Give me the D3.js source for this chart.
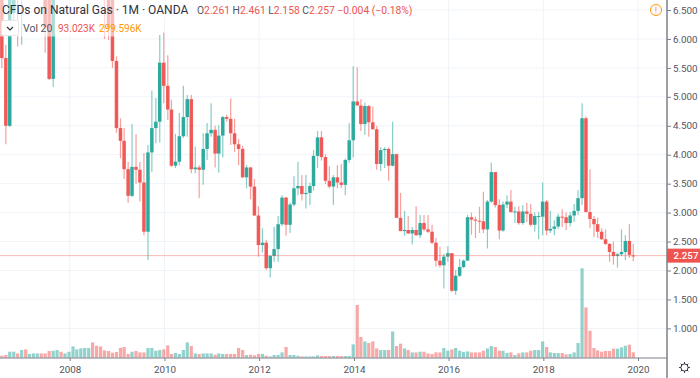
<!DOCTYPE html>
<html>
<head>
<meta charset="utf-8">
<script src="https://cdn.jsdelivr.net/npm/d3@7"></script>
<style>
  html, body { margin: 0; padding: 0; background: #fff; }
  text { font-family: Roboto, "Open Sans", sans-serif; }
</style>
</head>
<body>
<div id="chart"></div>
<script>
// monthly candles, Aug 2006 to Dec 2019
const firstYear = 2006, firstMonth = 7;

const opens = [
  7.6,5.67,4.5,6.45,7.5,7,7.8,7.3,7.7,7.9,
  8.2,7.4,7,5.31,7.3,7.6,7.1,7.4,8,9.2,
  9.4,10.8,11.3,13.1,9.1,8,7.4,7,6.9,5.62,
  4.46,4.24,3.75,3.29,3.79,3.74,3.52,2.67,4.04,4.46,
  4.57,5.59,5.19,4.78,3.81,3.88,4.32,4.65,4.96,3.75,
  3.78,3.74,4.1,4.37,4.43,4.02,4.33,4.65,4.62,4.37,
  4.18,4.1,3.61,3.78,3.45,2.95,2.44,2.48,2.04,2.25,
  2.37,2.8,3.26,2.79,3.14,3.42,3.46,3.32,3.34,3.46,
  3.98,4.3,3.96,3.55,3.45,3.61,3.52,3.48,3.91,4.25,
  4.92,4.85,4.53,4.84,4.56,4.44,3.84,4.08,4.1,3.81,
  4.01,2.91,2.68,2.7,2.64,2.7,2.61,2.82,2.71,2.67,
  2.48,2.17,2.09,2.24,2.3,1.65,1.91,2.06,2.17,2.92,
  2.88,2.86,2.85,2.71,3.19,3.7,3.13,2.69,3.14,3.19,
  3.01,3.02,2.82,3.02,2.98,2.79,2.93,2.93,3.19,2.69,
  2.72,2.76,2.93,2.92,2.82,2.95,3.03,3.25,4.63,3.01,
  2.89,2.8,2.67,2.54,2.46,2.32,2.25,2.28,2.32,2.51,2.261
];
const closes = [
  5.67,4.5,7.2,7.5,7,7.8,7.3,7.7,8,8.2,
  7.4,6.2,5.31,7.3,7.6,7.1,7.4,8,9.2,9.4,
  10.8,11.3,13.1,9.1,8,7.4,6.9,6.2,5.62,4.46,
  4.24,3.75,3.29,3.79,3.74,3.52,2.67,4.04,4.46,4.57,
  5.59,5.19,4.78,3.81,3.88,4.32,4.65,4.96,3.75,3.78,
  3.74,4.1,4.37,4.43,4.02,4.33,4.65,4.62,4.37,4.18,
  4.1,3.61,3.78,3.45,2.95,2.44,2.48,2.04,2.25,2.37,
  2.8,3.26,2.79,3.14,3.42,3.46,3.32,3.34,3.46,3.98,
  4.3,3.96,3.55,3.45,3.61,3.52,3.48,3.91,4.25,4.92,
  4.85,4.53,4.84,4.56,4.44,3.84,4.08,4.1,3.81,4.01,
  2.91,2.68,2.7,2.64,2.7,2.61,2.82,2.71,2.67,2.48,
  2.17,2.09,2.24,2.3,1.65,1.91,2.06,2.17,2.92,2.88,
  2.86,2.85,2.71,3.19,3.7,3.13,2.69,3.14,3.19,3.01,
  3.02,2.82,3.02,2.98,2.79,2.94,2.94,3.19,2.69,2.72,
  2.76,2.93,2.92,2.82,2.95,3.03,3.25,4.63,3.01,2.89,
  2.8,2.67,2.54,2.46,2.32,2.25,2.28,2.32,2.51,2.27,2.257
];
const highs = [
  8,5.9,8.4,8.6,8,8.2,8.1,8,8.4,8.6,
  8.5,7.8,7.2,7.6,8,7.8,7.7,8.3,9.5,9.8,
  11,11.9,13.6,13.7,9.6,8.6,7.9,7.5,7.4,5.7,
  4.63,4.46,3.88,4.53,4.36,3.88,4.03,4.17,5.11,4.98,
  6.07,6.11,5.72,4.95,4.36,4.72,5.19,5.03,5.03,4.14,
  3.82,4.37,4.55,4.89,4.5,4.51,4.67,4.69,4.97,4.62,
  4.27,4.15,3.82,3.79,3.58,3.11,2.73,2.53,2.27,2.75,
  2.94,3.3,3.27,3.17,3.63,3.88,3.65,3.65,3.52,4.08,
  4.41,4.41,4.01,3.8,3.65,3.82,3.84,3.93,4.55,5.53,
  5.51,4.96,4.9,4.86,4.83,4.5,4.13,4.13,4.13,4.57,
  4.02,3.34,3.03,2.94,2.75,3.11,2.96,2.96,2.96,2.79,
  2.56,2.41,2.29,2.42,2.3,2.01,2.2,2.19,2.96,3,
  2.93,3.1,3.36,3.22,3.86,3.7,3.23,3.19,3.3,3.39,
  3.1,3.11,3.13,3.17,3.15,3,3.01,3.52,3.22,3.03,
  2.87,2.98,3.06,3,3.01,3.15,3.39,4.89,4.66,3.75,
  2.94,2.91,2.73,2.71,2.47,2.5,2.3,2.71,2.61,2.8,2.461
];
const lows = [
  5.5,4.18,4.48,6.3,5.87,5.9,6.9,7,7.1,7.3,
  6.9,5.76,5.29,5.17,7,6.9,6.9,7.2,7.8,8.9,
  9.2,10.5,11.1,8.9,7.6,7,6,5.98,5.5,4.38,
  3.94,3.58,3.17,3.27,3.5,3.19,2.61,2.18,3.7,4.2,
  4.21,4.89,4.6,3.79,3.77,3.82,4.29,4.31,3.68,3.68,
  3.25,3.48,3.91,4.31,3.78,3.69,3.95,4.57,4.17,4.05,
  3.82,3.6,3.42,3.23,2.94,2.24,2.31,2.01,1.88,2.15,
  2.15,2.77,2.6,2.65,3.11,3.3,3.21,3.07,3.13,3.38,
  3.77,3.9,3.49,3.42,3.13,3.42,3.42,3.3,3.86,3.95,
  4.84,4.41,4.34,4.31,4.43,3.74,3.72,3.77,3.55,3.8,
  2.91,2.68,2.6,2.63,2.45,2.6,2.56,2.68,2.65,2.46,
  2.07,2.05,1.69,2.15,1.63,1.58,1.89,2.04,2.17,2.62,
  2.56,2.65,2.65,2.38,3.17,3.09,2.54,2.67,3.08,3,
  2.82,2.79,2.79,2.84,2.76,2.67,2.54,2.61,2.61,2.65,
  2.61,2.72,2.75,2.7,2.76,2.84,2.96,3.13,3,2.73,
  2.58,2.56,2.53,2.44,2.15,2.1,2.05,2.25,2.18,2.22,2.158
];
// volume in thousands
const volumes = [
  34,46,103,103,74,132,143,64,74,74,
  74,74,115,120,132,103,74,103,194,143,
  160,167,167,263,206,194,126,115,86,98,
  167,184,64,103,115,91,91,167,167,120,
  132,143,212,64,81,64,132,263,201,74,
  64,74,74,74,52,74,64,64,64,64,
  167,132,46,52,40,64,64,34,22,46,
  46,91,184,46,46,34,22,22,22,22,
  40,29,29,29,29,29,29,29,29,229,
  906,356,280,253,280,160,132,132,132,452,
  201,241,160,132,91,91,103,103,74,64,
  91,91,167,120,143,167,120,100,108,91,
  91,91,120,160,201,184,120,120,81,91,
  46,74,91,91,120,132,132,280,184,91,
  81,81,81,57,64,91,253,1538,865,464,
  167,126,103,115,115,155,155,177,206,224,93
];

const priceTicks = [6.5, 6, 5.5, 5, 4.5, 4, 3.5, 3, 2.5, 2, 1.5, 1];
const yearTicks = [2008, 2010, 2012, 2014, 2016, 2018, 2020];
const lastPrice = 2.257;

const upColor = '#26a69a', downColor = '#ef5350';
const gridColor = '#eff4f9', axisColor = '#7c7f8a', labelColor = '#50535e';
const width = 700, height = 378;
const plotRight = 667, plotBottom = 358;
const barShift = -0.7;

const candles = opens.map((o, i) => ({
  date: new Date(Date.UTC(firstYear, firstMonth + i, 1)),
  open: o, high: highs[i], low: lows[i], close: closes[i], volume: volumes[i]
}));

const svg = d3.select('#chart').append('svg')
  .attr('width', width)
  .attr('height', height)
  .style('display', 'block');

const xScale = d3.scaleUtc()
  .domain([new Date(Date.UTC(2008, 0, 1)), new Date(Date.UTC(2020, 0, 1))])
  .range([69.7, 638]);
const yScale = d3.scaleLinear().domain([1, 6.5]).range([328.4, 10]);
const volScale = d3.scaleLinear().domain([0, 1538]).range([plotBottom - 0.3, 268.3]);

const candleX = d => xScale(d.date) + barShift;
const isUp = d => d.close >= d.open;

svg.append('defs').append('clipPath')
  .attr('id', 'plot-clip')
  .append('rect')
  .attr('width', plotRight)
  .attr('height', plotBottom);

// grid
const grid = svg.append('g').attr('class', 'grid');
grid.selectAll('.h').data(priceTicks).enter().append('line')
  .attr('x1', 0).attr('x2', plotRight)
  .attr('y1', d => yScale(d)).attr('y2', d => yScale(d))
  .attr('stroke', gridColor).attr('stroke-width', 1);
grid.selectAll('.v').data(yearTicks).enter().append('line')
  .attr('x1', d => xScale(new Date(Date.UTC(d, 0, 1))))
  .attr('x2', d => xScale(new Date(Date.UTC(d, 0, 1))))
  .attr('y1', 0).attr('y2', plotBottom)
  .attr('stroke', gridColor).attr('stroke-width', 1);

const plot = svg.append('g').attr('clip-path', 'url(#plot-clip)');

// volume
plot.append('g').selectAll('rect').data(candles).enter().append('rect')
  .attr('x', d => candleX(d) - 1.6)
  .attr('width', 3.2)
  .attr('y', d => volScale(d.volume))
  .attr('height', d => volScale(0) - volScale(d.volume))
  .attr('fill', d => isUp(d) ? upColor : downColor)
  .attr('opacity', 0.5);

// wicks
plot.append('g').selectAll('line').data(candles).enter().append('line')
  .attr('x1', candleX).attr('x2', candleX)
  .attr('y1', d => yScale(d.high)).attr('y2', d => yScale(d.low))
  .attr('stroke', d => isUp(d) ? upColor : downColor)
  .attr('stroke-width', 1.2)
  .attr('opacity', 0.55);

// bodies
plot.append('g').selectAll('rect').data(candles).enter().append('rect')
  .attr('x', d => candleX(d) - 1.75)
  .attr('width', 3.5)
  .attr('y', d => yScale(Math.max(d.open, d.close)))
  .attr('height', d => Math.max(1, Math.abs(yScale(d.open) - yScale(d.close))))
  .attr('fill', d => isUp(d) ? upColor : downColor)
  .attr('opacity', 0.95);

// last price line
plot.append('line')
  .attr('x1', 0).attr('x2', plotRight)
  .attr('y1', yScale(lastPrice)).attr('y2', yScale(lastPrice))
  .attr('stroke', downColor).attr('stroke-width', 1).attr('opacity', 0.4);

// legend sits on a see-through white strip
svg.append('rect').attr('x', 0).attr('y', 0).attr('width', 228).attr('height', 18)
  .attr('fill', '#fff').attr('opacity', 0.6);
svg.append('rect').attr('x', 0).attr('y', 18).attr('width', 146).attr('height', 18.5)
  .attr('fill', '#fff').attr('opacity', 0.6);

const title = svg.append('text').attr('x', 2).attr('y', 13.5)
  .attr('font-size', 12).attr('fill', '#2f3241');
title.text('CFDs on Natural Gas · 1M · OANDA');

const ohlc = svg.append('text').attr('x', 197).attr('y', 13.5).attr('font-size', 10.3);
[['O', labelColor], ['2.261', downColor], [' H', labelColor], ['2.461', downColor],
 [' L', labelColor], ['2.158', downColor], [' C', labelColor], ['2.257', downColor],
 [' \u22120.004 (\u22120.18%)', downColor]].forEach(p => {
  ohlc.append('tspan').attr('fill', p[1]).attr('xml:space', 'preserve').text(p[0]);
});

// collapse button
svg.append('rect').attr('x', 1.5).attr('y', 20.5).attr('width', 17).attr('height', 15).attr('rx', 2)
  .attr('fill', '#fff').attr('stroke', '#e4e6ec');
svg.append('path').attr('d', d3.line()([[7, 27], [10, 30], [13, 27]]))
  .attr('fill', 'none').attr('stroke', '#2f3241').attr('stroke-width', 1.2);

svg.append('text').attr('x', 23).attr('y', 31.5).attr('font-size', 10.5).attr('fill', labelColor).text('Vol 20');
svg.append('text').attr('x', 58).attr('y', 31.5).attr('font-size', 10).attr('fill', downColor).text('93.023K');
svg.append('text').attr('x', 99).attr('y', 31.5).attr('font-size', 10).attr('fill', '#ff9800').text('299.596K');

// notice icon
svg.append('circle').attr('cx', 656).attr('cy', 10).attr('r', 5.5)
  .attr('fill', 'none').attr('stroke', '#ff9800').attr('stroke-width', 1);
svg.append('text').attr('x', 656).attr('y', 13.5).attr('text-anchor', 'middle')
  .attr('font-size', 9.5).attr('fill', '#ff9800').text('!');

// price axis
const yAxis = d3.axisRight(yScale)
  .tickValues(priceTicks)
  .tickFormat(d3.format('.3f'))
  .tickSize(4)
  .tickPadding(2);
const yAxisG = svg.append('g')
  .attr('transform', `translate(${plotRight},0)`)
  .call(yAxis);
yAxisG.select('.domain').remove();
yAxisG.selectAll('line').attr('stroke', axisColor);
yAxisG.selectAll('text').attr('font-size', 9.8).attr('fill', labelColor);
svg.append('line').attr('x1', plotRight).attr('x2', plotRight).attr('y1', 0).attr('y2', height)
  .attr('stroke', axisColor).attr('stroke-width', 1.5);

// time axis
const xAxis = d3.axisBottom(xScale)
  .tickValues(yearTicks.map(y => new Date(Date.UTC(y, 0, 1))))
  .tickFormat(d3.utcFormat('%Y'))
  .tickSize(3)
  .tickPadding(5);
const xAxisG = svg.append('g')
  .attr('transform', `translate(0,${plotBottom})`)
  .call(xAxis);
xAxisG.select('.domain').remove();
xAxisG.selectAll('line').attr('stroke', axisColor);
xAxisG.selectAll('text').attr('font-size', 9.8).attr('fill', labelColor);
svg.append('line').attr('x1', 0).attr('x2', plotRight).attr('y1', plotBottom).attr('y2', plotBottom)
  .attr('stroke', axisColor).attr('stroke-width', 1);

// last price tag
svg.append('rect').attr('x', plotRight).attr('y', yScale(lastPrice) - 7).attr('width', 33).attr('height', 14)
  .attr('fill', downColor);
svg.append('text').attr('x', 673.5).attr('y', yScale(lastPrice) + 3.5).attr('font-size', 9.8)
  .attr('font-weight', 500).attr('fill', '#fff').text('2.257');

// settings gear
const gear = svg.append('g').attr('transform', 'translate(684.5,367.5)');
gear.append('circle').attr('r', 3.6).attr('fill', 'none').attr('stroke', '#2f3241').attr('stroke-width', 1);
gear.selectAll('line').data(d3.range(8)).enter().append('line')
  .attr('x1', d => 3.6 * Math.cos(d * Math.PI / 4)).attr('y1', d => 3.6 * Math.sin(d * Math.PI / 4))
  .attr('x2', d => 5.4 * Math.cos(d * Math.PI / 4)).attr('y2', d => 5.4 * Math.sin(d * Math.PI / 4))
  .attr('stroke', '#2f3241').attr('stroke-width', 1);
</script>
</body>
</html>
